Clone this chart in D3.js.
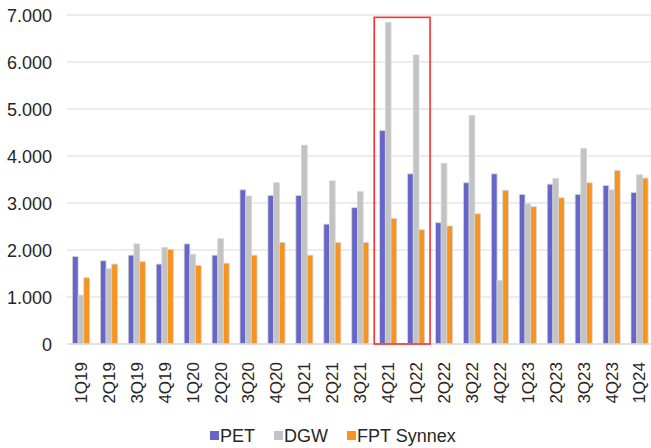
<!DOCTYPE html>
<html>
<head>
<meta charset="utf-8">
<script src="https://cdn.jsdelivr.net/npm/d3@7"></script>
<style>
  html, body { margin: 0; padding: 0; background: #fff; }
  svg { display: block; font-family: "Liberation Sans", Arial, sans-serif; }
</style>
</head>
<body>
<svg id="chart" width="651" height="448"></svg>
<script>
const categories = ["1Q19","2Q19","3Q19","4Q19","1Q20","2Q20","3Q20","4Q20","1Q21","2Q21","3Q21","4Q21","1Q22","2Q22","3Q22","4Q22","1Q23","2Q23","3Q23","4Q23","1Q24"];
const seriesNames = ["PET", "DGW", "FPT Synnex"];
const pet = [1860,1770,1890,1700,2130,1890,3280,3160,3160,2550,2900,4540,3620,2580,3430,3620,3180,3400,3180,3370,3220];
const dgw = [1040,1600,2130,2050,1910,2240,3150,3430,4230,3470,3240,6840,6150,3840,4860,1350,2980,3520,4160,3280,3600];
const fpt = [1410,1700,1750,2010,1670,1720,1890,2160,1890,2160,2160,2670,2430,2510,2770,3270,2920,3110,3430,3690,3530];
const yTicks = [0,1000,2000,3000,4000,5000,6000,7000];
const highlight = ["4Q21", "1Q22"];
const colors = ["#6666c8", "#c3c3c3", "#f7931e"];

const seriesValues = [pet, dgw, fpt];
const svg = d3.select("#chart");

const x = d3.scaleBand().domain(categories).range([67, 653.5]).paddingInner(0.39).paddingOuter(0.195);
const xs = d3.scaleBand().domain(seriesNames).range([0, x.bandwidth()]).padding(0);
const y = d3.scaleLinear().domain([0, 7000]).range([344, 15]);

const fmt = v => d3.format(",")(v).replace(/,/g, ".");

// gridlines
svg.append("g").selectAll("line").data(yTicks.filter(t => t > 0)).join("line")
  .attr("x1", 67).attr("x2", 651)
  .attr("y1", d => y(d)).attr("y2", d => y(d))
  .attr("stroke", "#d9d9d9").attr("stroke-width", 1.2);

// y axis labels
const yAxis = svg.append("g").attr("transform", "translate(56,0)")
  .call(d3.axisLeft(y).tickValues(yTicks).tickSize(0).tickPadding(4).tickFormat(fmt));
yAxis.select(".domain").remove();
yAxis.selectAll("text").attr("font-size", 18).attr("fill", "#262626")
  .attr("font-family", "Liberation Sans, Arial, sans-serif").attr("dy", "0.35em");

// bars
const groups = svg.append("g").selectAll("g").data(categories).join("g")
  .attr("transform", d => `translate(${x(d)},0)`);
groups.selectAll("rect").data((c, i) => seriesNames.map((s, j) => ({ s, j, v: seriesValues[j][i] }))).join("rect")
  .attr("x", d => xs(d.s))
  .attr("width", xs.bandwidth())
  .attr("y", d => y(d.v))
  .attr("height", d => y(0) - y(d.v))
  .attr("fill", d => colors[d.j])
  .attr("stroke", "#d4d4d4").attr("stroke-width", 0.8);

// x axis line
svg.append("line").attr("x1", 67).attr("x2", 651).attr("y1", y(0)).attr("y2", y(0))
  .attr("stroke", "#d9d9d9").attr("stroke-width", 1.5);

// x labels
const xAxis = svg.append("g").attr("transform", `translate(0,${y(0)})`)
  .call(d3.axisBottom(x).tickSize(0).tickPadding(0));
xAxis.select(".domain").remove();
xAxis.selectAll("text")
  .attr("font-size", 17).attr("fill", "#262626")
  .attr("font-family", "Liberation Sans, Arial, sans-serif")
  .attr("transform", "rotate(-90)")
  .attr("text-anchor", "end")
  .attr("x", -18).attr("y", 0).attr("dy", "0.35em");

// highlight box
svg.append("rect")
  .attr("x", x(highlight[0]) - x.step() * x.paddingInner() / 2)
  .attr("y", y(6950))
  .attr("width", x(highlight[1]) - x(highlight[0]) + x.step())
  .attr("height", y(0) - y(6950))
  .attr("fill", "none").attr("stroke", "#ff2f2f").attr("stroke-width", 1.6);

// legend
const legendItems = [
  { name: "PET", x: 210 },
  { name: "DGW", x: 274 },
  { name: "FPT Synnex", x: 347 }
];
const lg = svg.append("g").selectAll("g").data(legendItems).join("g")
  .attr("transform", d => `translate(${d.x},0)`);
lg.append("rect").attr("x", 0).attr("y", 431).attr("width", 9).attr("height", 9)
  .attr("fill", (d, i) => colors[i]);
lg.append("text").attr("x", 10).attr("y", 442).text(d => d.name)
  .attr("font-size", 18).attr("fill", "#262626");
</script>
</body>
</html>
